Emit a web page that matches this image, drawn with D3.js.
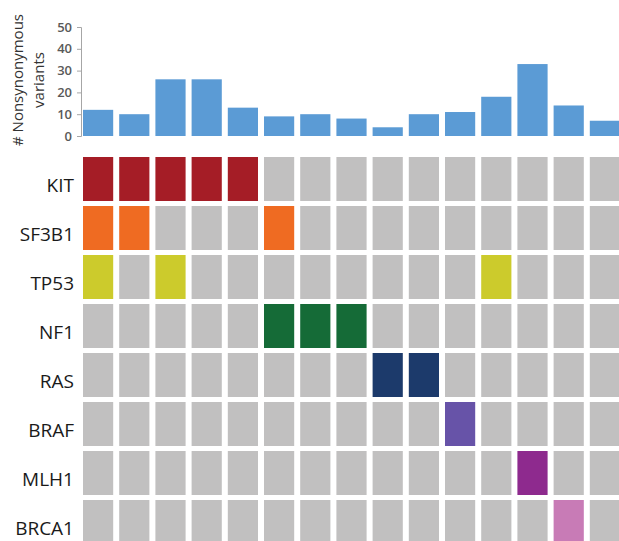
<!DOCTYPE html>
<html>
<head>
<meta charset="utf-8">
<script src="https://cdn.jsdelivr.net/npm/d3@7/dist/d3.min.js"></script>
<style>
  html, body { margin: 0; padding: 0; background: #fff; }
  svg { display: block; }
</style>
</head>
<body>
<svg id="chart" width="619" height="541"></svg>
<script>
// Samples (columns), left to right
const samples = ["S1","S2","S3","S4","S5","S6","S7","S8","S9","S10","S11","S12","S13","S14","S15"];
// Nonsynonymous variant count per sample
const variantCounts = [12, 10, 26, 26, 13, 9, 10, 8, 4, 10, 11, 18, 33, 14, 7];
// Genes (rows), top to bottom
const genes = ["KIT", "SF3B1", "TP53", "NF1", "RAS", "BRAF", "MLH1", "BRCA1"];
// Colour of each gene when mutated
const geneColors = ["#a51d26", "#ef6b22", "#cccb2c", "#156b37", "#1c3a6b", "#6753a8", "#8e2a8e", "#c87bb6"];
// Indices of mutated samples for each gene
const mutatedSamples = [
  [0, 1, 2, 3, 4],   // KIT
  [0, 1, 5],         // SF3B1
  [0, 2, 11],        // TP53
  [5, 6, 7],         // NF1
  [8, 9],            // RAS
  [10],              // BRAF
  [12],              // MLH1
  [13]               // BRCA1
];
const yTicks = [0, 10, 20, 30, 40, 50];

const svg = d3.select("#chart");
const FONT = "'Open Sans', 'DejaVu Sans', sans-serif";

const x = d3.scaleBand().domain(samples).range([83, 620]).paddingInner(0.166).paddingOuter(0);
const yBar = d3.scaleLinear().domain([0, 50]).range([136, 27]);
const yRow = d3.scaleBand().domain(genes).range([157, 544]).paddingInner(0.102).paddingOuter(0);

// --- bar chart of variant counts ---
svg.append("g").selectAll("rect")
  .data(samples.map((s, i) => ({ s, v: variantCounts[i] })))
  .join("rect")
  .attr("x", d => x(d.s))
  .attr("y", d => yBar(d.v))
  .attr("width", x.bandwidth())
  .attr("height", d => yBar(0) - yBar(d.v))
  .attr("fill", "#5b9bd5");

const yAxis = svg.append("g")
  .attr("transform", "translate(81,0)")
  .call(d3.axisLeft(yBar).tickValues(yTicks).tickSize(4).tickPadding(5));
yAxis.select(".domain").attr("stroke", "#a6a6a6").attr("stroke-width", 1);
yAxis.selectAll(".tick line").attr("stroke", "#a6a6a6");
yAxis.selectAll(".tick text")
  .attr("font-family", FONT).attr("font-size", 13).attr("font-weight", 600).attr("fill", "#595959");

// axis title, two lines
const title = svg.append("g").attr("font-family", FONT).attr("font-size", 15).attr("fill", "#333")
  .attr("font-weight", 500).attr("text-anchor", "middle");
title.append("text").attr("transform", "translate(23,80) rotate(-90)").text("# Nonsynonymous");
title.append("text").attr("transform", "translate(44,80) rotate(-90)").text("variants");

// --- mutation grid ---
const cells = [];
genes.forEach((g, gi) => {
  samples.forEach((s, si) => {
    const hit = mutatedSamples[gi].includes(si);
    cells.push({ g, s, color: hit ? geneColors[gi] : "#c1c0c0" });
  });
});
svg.append("g").selectAll("rect")
  .data(cells)
  .join("rect")
  .attr("x", d => x(d.s))
  .attr("y", d => yRow(d.g))
  .attr("width", x.bandwidth())
  .attr("height", yRow.bandwidth())
  .attr("fill", d => d.color);

// gene labels
svg.append("g").selectAll("text")
  .data(genes)
  .join("text")
  .attr("x", 74)
  .attr("y", d => yRow(d) + yRow.bandwidth() / 2 + 13)
  .attr("text-anchor", "end")
  .attr("font-family", FONT)
  .attr("font-size", 19)
  .attr("font-weight", 500)
  .attr("fill", "#1a1a1a")
  .text(d => d);
</script>
</body>
</html>
